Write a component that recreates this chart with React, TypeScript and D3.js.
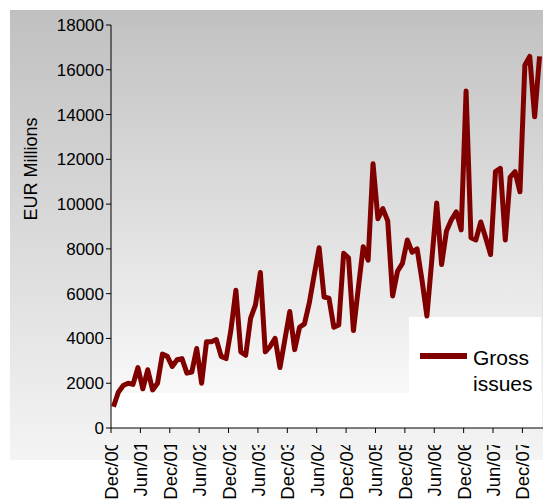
import React from 'react'
import * as d3 from 'd3'

// one category per month, Dec/00 .. Mar/08
const months = [
    "Dec/00",
    "Jan/01", "Feb/01", "Mar/01", "Apr/01", "May/01", "Jun/01", "Jul/01", "Aug/01", "Sep/01", "Oct/01", "Nov/01", "Dec/01",
    "Jan/02", "Feb/02", "Mar/02", "Apr/02", "May/02", "Jun/02", "Jul/02", "Aug/02", "Sep/02", "Oct/02", "Nov/02", "Dec/02",
    "Jan/03", "Feb/03", "Mar/03", "Apr/03", "May/03", "Jun/03", "Jul/03", "Aug/03", "Sep/03", "Oct/03", "Nov/03", "Dec/03",
    "Jan/04", "Feb/04", "Mar/04", "Apr/04", "May/04", "Jun/04", "Jul/04", "Aug/04", "Sep/04", "Oct/04", "Nov/04", "Dec/04",
    "Jan/05", "Feb/05", "Mar/05", "Apr/05", "May/05", "Jun/05", "Jul/05", "Aug/05", "Sep/05", "Oct/05", "Nov/05", "Dec/05",
    "Jan/06", "Feb/06", "Mar/06", "Apr/06", "May/06", "Jun/06", "Jul/06", "Aug/06", "Sep/06", "Oct/06", "Nov/06", "Dec/06",
    "Jan/07", "Feb/07", "Mar/07", "Apr/07", "May/07", "Jun/07", "Jul/07", "Aug/07", "Sep/07", "Oct/07", "Nov/07", "Dec/07",
    "Jan/08", "Feb/08", "Mar/08"
]

const grossIssues = [
    950,
    1600, 1900, 2000, 1950, 2700, 1750, 2600, 1700, 2000, 3300, 3200, 2750,
    3050, 3100, 2450, 2500, 3550, 2000, 3850, 3850, 3950, 3200, 3100, 4400,
    6150, 3400, 3250, 4900, 5500, 6950, 3400, 3650, 4000, 2700, 3950, 5200,
    3500, 4500, 4650, 5600, 6850, 8050, 5850, 5800, 4500, 4600, 7800, 7600,
    4350, 6250, 8100, 7500, 11800, 9350, 9800, 9250, 5900, 7000, 7350, 8400,
    7850, 8000, 6600, 5000, 7500, 10050, 7300, 8800, 9300, 9650, 8850, 15050,
    8500, 8400, 9200, 8500, 7750, 11450, 11600, 8400, 11200, 11450, 10550, 16200,
    16600, 13900, 16600
]

const tickLabels = ["Dec/00", "Jun/01", "Dec/01", "Jun/02", "Dec/02", "Jun/03", "Dec/03", "Jun/04",
    "Dec/04", "Jun/05", "Dec/05", "Jun/06", "Dec/06", "Jun/07", "Dec/07"]

const yTicks = [0, 2000, 4000, 6000, 8000, 10000, 12000, 14000, 16000, 18000]

const FONT = "'Liberation Sans', Arial, sans-serif"
const RED = "#800000"

const plot = { left: 111, right: 542, top: 25, bottom: 428 }

const App = () => {
    const x = d3.scaleBand<string>().domain(months).range([plot.left, plot.right]).padding(0)
    const y = d3.scaleLinear().domain([0, 18000]).range([plot.bottom, plot.top])

    const line = d3.line<number>()
        .x((d, i) => (x(months[i]) as number) + x.bandwidth() / 2)
        .y(d => y(d))

    return (
        <div style={{ position: "absolute", left: 0, top: 0 }}>
            <svg width={543} height={502} style={{ display: "block", fontFamily: FONT }}>
                <defs>
                    <linearGradient id="chartBg" x1="0" y1="0" x2="0" y2="1">
                        <stop offset="0" stopColor="#c0c0c0" />
                        <stop offset="1" stopColor="#f4f4f4" />
                    </linearGradient>
                    <linearGradient id="plotBg" x1="0" y1="0" x2="0" y2="1">
                        <stop offset="0" stopColor="#c3c3c3" />
                        <stop offset="1" stopColor="#f8f8f8" />
                    </linearGradient>
                    <clipPath id="labelClip">
                        <rect x={0} y={445} width={543} height={57} />
                    </clipPath>
                </defs>

                <rect x={0} y={0} width={543} height={502} fill="#fff" />
                <rect x={10} y={10} width={533} height={450} fill="url(#chartBg)" />
                <rect x={plot.left} y={plot.top} width={plot.right - plot.left} height={393 - plot.top} fill="url(#plotBg)" />
                <rect x={plot.left} y={393} width={plot.right - plot.left} height={plot.bottom - 393} fill="#fff" />

                {/* y axis */}
                <line x1={plot.left} x2={plot.left} y1={plot.top} y2={plot.bottom} stroke="#000" />
                {yTicks.map(t => (
                    <g key={t} transform={`translate(0, ${y(t)})`}>
                        <line x1={plot.left - 5} x2={plot.left} stroke="#000" />
                        <text x={104} dy="0.35em" textAnchor="end" fontSize={17} fill="#000">{t}</text>
                    </g>
                ))}
                <text transform="translate(37, 169) rotate(-90)" textAnchor="middle" fontSize={18} fill="#000">EUR Millions</text>

                {/* x axis, labels cut off at the top as in the original */}
                <line x1={plot.left} x2={543} y1={plot.bottom} y2={plot.bottom} stroke="#000" />
                {tickLabels.map(t => (
                    <line key={t} x1={x(t)} x2={x(t)} y1={plot.bottom} y2={plot.bottom + 5} stroke="#000" />
                ))}
                <g clipPath="url(#labelClip)">
                    {tickLabels.map(t => (
                        <text key={t} transform={`translate(${(x(t) as number) + 7}, 441) rotate(-90)`}
                            textAnchor="end" fontSize={18.5} fill="#000">{t}</text>
                    ))}
                </g>

                {/* legend box */}
                <rect x={409} y={317} width={132} height={76} fill="#fff" />

                <path d={line(grossIssues) || ""} fill="none" stroke={RED} strokeWidth={5}
                    strokeLinejoin="round" />

                <line x1={420} x2={467} y1={356} y2={356} stroke={RED} strokeWidth={6} />
                <text x={473} y={365} fontSize={21} fill="#000">Gross</text>
                <text x={473} y={391} fontSize={21} fill="#000">issues</text>
            </svg>
        </div>
    )
}

export default App
